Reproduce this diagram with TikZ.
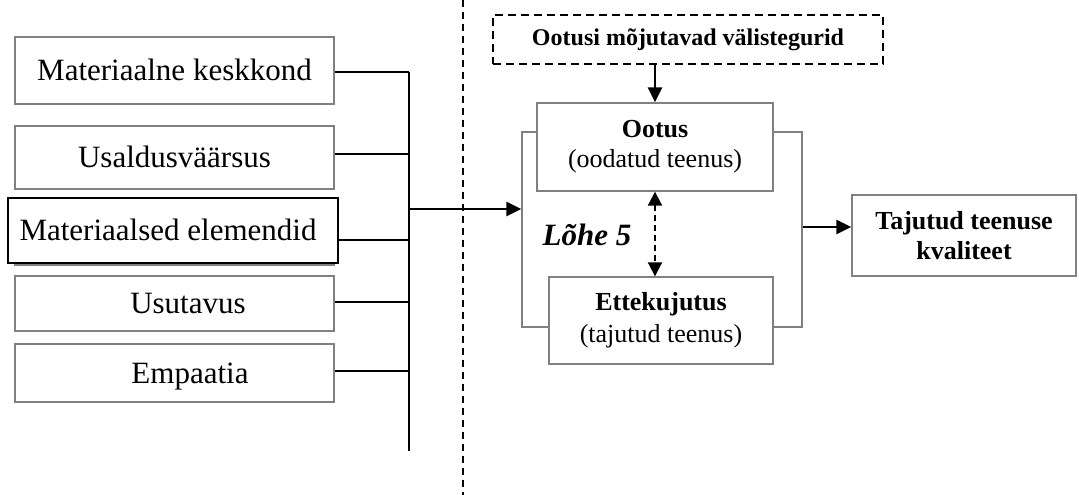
\documentclass[tikz,border=0pt]{standalone}
\usepackage{fontspec}
\setmainfont{Liberation Serif}
\usetikzlibrary{arrows.meta}
\definecolor{boxgray}{RGB}{128,128,128}
\tikzset{
  leftbox/.style={draw=boxgray, line width=1.4pt, fill=white, minimum width=319pt, inner sep=0pt, text height=20.5pt, text depth=0pt, font=\fontsize{31}{36}\selectfont},
  midbox/.style={draw=boxgray, line width=1.4pt, fill=white, inner sep=0pt, align=center},
  conn/.style={line width=2.5pt},
  arr/.style={line width=2.5pt, -{Triangle[length=15pt,width=14pt]}},
}
\begin{document}
\begin{tikzpicture}[x=1pt,y=-1pt]
\useasboundingbox (0,0) rectangle (1079,495);
% left boxes
\node[leftbox, minimum height=67pt] (b1) at (174.5,70.5) {Materiaalne keskkond};
\node[leftbox, minimum height=63pt] (b2) at (174.5,157.5) {Usaldusväärsus};
\node[leftbox, minimum height=60pt] (b3s) at (174.5,235) {};
\node[leftbox, draw=black, minimum width=330pt, minimum height=65pt] (b3) at (173,230.5) {\hspace*{-10pt}Materiaalsed elemendid};
\node[leftbox, minimum height=55pt] (b4) at (174.5,303.5) {\hspace*{27pt}Usutavus};
\node[leftbox, minimum height=58pt] (b5) at (174.5,373) {\hspace*{31pt}Empaatia};
% bus
\coordinate (busT) at (409,72);
\coordinate (busB) at (409,451);
\coordinate (busM) at (409,209);
\draw[conn] (busT) -- (busB);
\draw[conn] (b1.east |- busT) -- (busT);
\draw[conn] (b2.east) ++(0,-3.5) -- (busT |- {(0,154)});
\draw[conn] ([yshift=-9.5pt]b3.east) -- ([yshift=-9.5pt]b3.east -| busT);
\draw[conn] (b4.east) ++(0,-1.5) -- (busT |- {(0,302)});
\draw[conn] (b5.east) ++(0,-2) -- (busT |- {(0,371)});
% dashed divider
\coordinate (dT) at (463,0);
\coordinate (dB) at (463,495);
\draw[line width=1.6pt, dash pattern=on 7pt off 5pt] (dT) -- (dB);
% right part
\node[draw=boxgray, line width=1.4pt, minimum width=280pt, minimum height=195pt, inner sep=0pt] (frame) at (662,229.5) {};
\node[draw=black, line width=1.6pt, dash pattern=on 8pt off 5pt, minimum width=390pt, minimum height=49pt, inner sep=0pt, font=\fontsize{24}{28}\selectfont\bfseries] (ext) at (688,39.5) {Ootusi mõjutavad välistegurid};
\node[midbox, minimum width=236pt, minimum height=88pt, font=\fontsize{26}{30}\selectfont] (oo) at (655,147) {\textbf{Ootus}\\(oodatud teenus)};
\node[midbox, minimum width=224pt, minimum height=87pt, font=\fontsize{26}{32}\selectfont] (ett) at (661,320.5) {\textbf{Ettekujutus}\\(tajutud teenus)};
\node[midbox, minimum width=224pt, minimum height=81pt, font=\fontsize{26}{30}\selectfont\bfseries] (tq) at (964,235.5) {Tajutud teenuse\\kvaliteet};
\node[inner sep=0pt, font=\fontsize{31}{36}\selectfont\bfseries\itshape] (gap) at (587,235) {Lõhe 5};
\draw[arr] (busM) -- (busM -| frame.west);
\draw[arr] (ext.south -| oo.north) -- (oo.north);
\draw[line width=2pt, dash pattern=on 6pt off 4pt, {Triangle[length=14pt,width=14pt]}-{Triangle[length=14pt,width=14pt]}] (oo.south) -- (oo.south |- ett.north);
\draw[arr] ([yshift=2.5pt]frame.east) -- ([yshift=2.5pt]frame.east -| tq.west);
\end{tikzpicture}
\end{document}
